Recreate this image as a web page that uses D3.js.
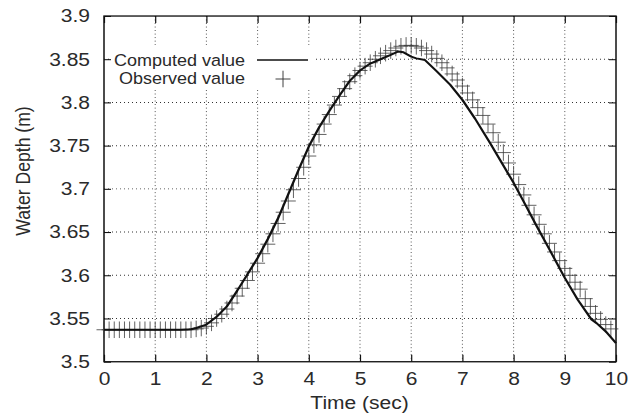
<!DOCTYPE html>
<html>
<head>
<meta charset="utf-8">
<script src="https://cdn.jsdelivr.net/npm/d3@7"></script>
<style>
    body { margin: 0; background: #fff; }
    text { font-family: "Liberation Sans", Arial, sans-serif; fill: #2a2a2a; }
</style>
</head>
<body>
<div id="chart"></div>
<script>
// computed water depth (solid line)
const compTime = [0, 1.5, 1.7, 1.8, 2.0, 2.2, 2.4, 2.6, 2.8, 3.0, 3.2, 3.4, 3.6, 3.8, 4.0, 4.2, 4.4, 4.6, 4.8, 5.0,
    5.2, 5.4, 5.6, 5.75, 5.85, 6.0, 6.1, 6.27, 6.5, 6.76, 7.0, 7.25, 7.54, 7.8, 8.0, 8.2, 8.45, 8.7, 9.0, 9.25,
    9.52, 9.62, 9.8, 10];
const compDepth = [3.537, 3.537, 3.5375, 3.539, 3.543, 3.552, 3.564, 3.582, 3.601, 3.620, 3.642, 3.666, 3.694, 3.722,
    3.749, 3.771, 3.790, 3.808, 3.825, 3.837, 3.845, 3.850, 3.855, 3.859, 3.858, 3.853, 3.851, 3.849, 3.836, 3.8206,
    3.803, 3.781, 3.753, 3.727, 3.707, 3.685, 3.657, 3.630, 3.597, 3.572, 3.549, 3.5447, 3.535, 3.5216];

// observed water depth (+ markers)
const obsTime = [0.0, 0.1, 0.2, 0.3, 0.4, 0.5, 0.6, 0.7, 0.8, 0.9, 1.0, 1.1, 1.2, 1.3, 1.4, 1.5, 1.6, 1.7, 1.8, 1.9,
    2.0, 2.1, 2.2, 2.3, 2.4, 2.5, 2.6, 2.7, 2.8, 2.9, 3.0, 3.1, 3.2, 3.3, 3.4, 3.5, 3.6, 3.7, 3.8, 3.9,
    4.0, 4.1, 4.2, 4.3, 4.4, 4.5, 4.6, 4.7, 4.8, 4.9, 5.0, 5.1, 5.2, 5.3, 5.4, 5.5, 5.6, 5.7, 5.8, 5.9,
    6.0, 6.1, 6.2, 6.3, 6.4, 6.5, 6.6, 6.7, 6.8, 6.9, 7.0, 7.1, 7.2, 7.3, 7.4, 7.5, 7.6, 7.7, 7.8, 7.9,
    8.0, 8.1, 8.2, 8.3, 8.4, 8.5, 8.6, 8.7, 8.8, 8.9, 9.0, 9.1, 9.2, 9.3, 9.4, 9.5, 9.6, 9.7, 9.8, 9.9];
const obsDepth = [3.537, 3.537, 3.537, 3.537, 3.537, 3.537, 3.537, 3.537, 3.537, 3.537,
    3.537, 3.537, 3.537, 3.537, 3.537, 3.537, 3.537, 3.537, 3.538, 3.539,
    3.541, 3.545, 3.550, 3.555, 3.561, 3.568, 3.576, 3.585, 3.594, 3.604,
    3.614, 3.625, 3.636, 3.648, 3.660, 3.673, 3.686, 3.699, 3.712, 3.725,
    3.738, 3.751, 3.763, 3.775, 3.786, 3.797, 3.807, 3.816, 3.824, 3.831,
    3.837, 3.842, 3.846, 3.850, 3.854, 3.857, 3.860, 3.863, 3.865, 3.866,
    3.866, 3.865, 3.863, 3.860, 3.856, 3.851, 3.846, 3.840, 3.833, 3.826,
    3.819, 3.811, 3.803, 3.794, 3.785, 3.775, 3.765, 3.754, 3.742, 3.730,
    3.717, 3.705, 3.693, 3.681, 3.670, 3.659, 3.648, 3.637, 3.627, 3.617,
    3.608, 3.600, 3.592, 3.584, 3.573, 3.564, 3.556, 3.549, 3.543, 3.538];

const xTicks = [0, 1, 2, 3, 4, 5, 6, 7, 8, 9, 10];
const yTicks = [3.5, 3.55, 3.6, 3.65, 3.7, 3.75, 3.8, 3.85, 3.9];
const xTickLabels = ['0', '1', '2', '3', '4', '5', '6', '7', '8', '9', '10'];
const yTickLabels = ['3.5', '3.55', '3.6', '3.65', '3.7', '3.75', '3.8', '3.85', '3.9'];

// the original is slightly squashed vertically, so draw tall and scale down
const width = 629, height = 416, sy = 0.881;
const plotL = 104, plotR = 616, plotT = 18.2, plotB = 410.6;

const svg = d3.select('#chart').append('svg')
    .attr('width', width)
    .attr('height', height);

const g = svg.append('g').attr('transform', `scale(1,${sy})`);

const x = d3.scaleLinear().domain([0, 10]).range([plotL, plotR]);
const y = d3.scaleLinear().domain([3.5, 3.9]).range([plotB, plotT]);

// dotted grid
g.append('g').selectAll('line')
    .data(xTicks.slice(1, -1))
    .join('line')
    .attr('x1', d => x(d)).attr('x2', d => x(d))
    .attr('y1', plotT).attr('y2', plotB)
    .attr('stroke', '#333').attr('stroke-width', 1)
    .attr('stroke-dasharray', '1,3');

g.append('g').selectAll('line')
    .data(yTicks.slice(1, -1))
    .join('line')
    .attr('x1', plotL).attr('x2', plotR)
    .attr('y1', d => y(d)).attr('y2', d => y(d))
    .attr('stroke', '#333').attr('stroke-width', 1.1)
    .attr('stroke-dasharray', '1,3');

// axes, ticks pointing inward on all four sides
const xAxis = d3.axisBottom(x).tickValues(xTicks).tickSize(-8).tickPadding(11.5)
    .tickFormat((d, i) => xTickLabels[i]);
const yAxis = d3.axisLeft(y).tickValues(yTicks).tickSize(-7).tickPadding(14)
    .tickFormat((d, i) => yTickLabels[i]);

const gx = g.append('g').attr('transform', `translate(0,${plotB})`).call(xAxis);
const gy = g.append('g').attr('transform', `translate(${plotL},0)`).call(yAxis);
const gxt = g.append('g').attr('transform', `translate(0,${plotT})`)
    .call(d3.axisTop(x).tickValues(xTicks).tickSize(-8).tickFormat(''));
const gyr = g.append('g').attr('transform', `translate(${plotR},0)`)
    .call(d3.axisRight(y).tickValues(yTicks).tickSize(-7).tickFormat(''));

[gx, gy, gxt, gyr].forEach(a => {
    a.select('.domain').remove();
    a.selectAll('.tick line').attr('stroke', '#111').attr('stroke-width', 1.2);
    a.selectAll('text')
        .attr('font-family', '"Liberation Sans", Arial, sans-serif')
        .attr('font-size', 21)
        .attr('fill', '#2a2a2a');
});

// frame
g.append('rect')
    .attr('x', plotL).attr('y', plotT)
    .attr('width', plotR - plotL).attr('height', plotB - plotT)
    .attr('fill', 'none').attr('stroke', '#111').attr('stroke-width', 1.5);

// axis titles
g.append('text')
    .attr('x', (plotL + plotR) / 2 - 0.5)
    .attr('y', 464.5)
    .attr('text-anchor', 'middle')
    .attr('font-size', 21)
    .text('Time (sec)');

g.append('text')
    .attr('transform', `translate(29.5,${171 / sy}) rotate(-90)`)
    .attr('text-anchor', 'middle')
    .attr('font-size', 20)
    .text('Water Depth (m)');

// legend (opaque box hides the grid behind it)
g.append('rect')
    .attr('x', 112).attr('y', 45 / sy)
    .attr('width', 204).attr('height', 45 / sy)
    .attr('fill', '#fff');

g.append('text')
    .attr('x', 245).attr('y', 60 / sy).attr('dy', '0.35em')
    .attr('text-anchor', 'end').attr('font-size', 18)
    .text('Computed value');
g.append('line')
    .attr('x1', 257).attr('x2', 308)
    .attr('y1', 60 / sy).attr('y2', 60 / sy)
    .attr('stroke', '#111').attr('stroke-width', 1.6);

g.append('text')
    .attr('x', 245).attr('y', 78 / sy).attr('dy', '0.35em')
    .attr('text-anchor', 'end').attr('font-size', 18)
    .text('Observed value');

const plus = 'M-7.5,0H7.5M0,-9.4V9.4';

g.append('path')
    .attr('d', plus)
    .attr('transform', `translate(283,${79 / sy})`)
    .attr('fill', 'none').attr('stroke', '#333').attr('stroke-width', 1);

// observed markers
g.append('g').selectAll('path')
    .data(obsTime.map((t, i) => [t, obsDepth[i]]))
    .join('path')
    .attr('d', plus)
    .attr('transform', d => `translate(${x(d[0])},${y(d[1])})`)
    .attr('fill', 'none')
    .attr('stroke', '#3a3a3a')
    .attr('stroke-width', 0.85);

// computed line
const line = d3.line()
    .x(d => x(d[0]))
    .y(d => y(d[1]));

g.append('path')
    .datum(compTime.map((t, i) => [t, compDepth[i]]))
    .attr('d', line)
    .attr('fill', 'none')
    .attr('stroke', '#111')
    .attr('stroke-width', 2.3)
    .attr('stroke-linejoin', 'round');
</script>
</body>
</html>
